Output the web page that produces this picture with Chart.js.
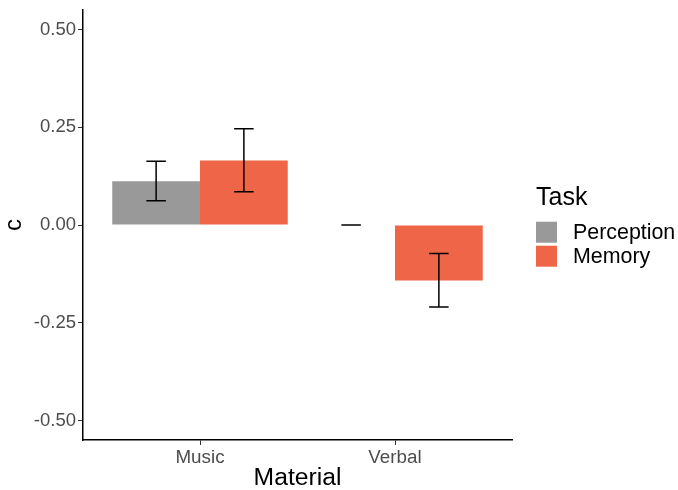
<!DOCTYPE html>
<html>
<head>
<meta charset="utf-8">
<script src="https://cdn.jsdelivr.net/npm/chart.js@4.4.1/dist/chart.umd.min.js"></script>
<style>
html,body{margin:0;padding:0;background:#fff;}
#wrap{width:678px;height:490px;}
</style>
</head>
<body>
<div id="wrap"><canvas id="c" width="678" height="490"></canvas></div>
<script>
// ---- data ----
const categories = ['Music', 'Verbal'];
const taskNames = ['Perception', 'Memory'];
const perceptionMean = [0.112, 0.000];
const perceptionLow  = [0.062, 0.000];
const perceptionHigh = [0.163, 0.000];
const memoryMean = [0.165, -0.142];
const memoryLow  = [0.085, -0.210];
const memoryHigh = [0.246, -0.073];
const yTicks = [-0.50, -0.25, 0.00, 0.25, 0.50];

const colors = ['#999999', '#EF6548'];
const FONT = "'Liberation Sans', Arial, sans-serif";

const means = [perceptionMean, memoryMean];
const lows = [perceptionLow, memoryLow];
const highs = [perceptionHigh, memoryHigh];

const datasets = taskNames.map((name, d) => ({
  label: name,
  data: categories.map((c, i) => ({x: i + 1, y: means[d][i]})),
  backgroundColor: colors[d],
  borderWidth: 0,
  categoryPercentage: 0.9,
  barPercentage: 1.0
}));

const errorBars = {
  id: 'errorBars',
  afterDatasetsDraw(chart) {
    const ctx = chart.ctx;
    const ys = chart.scales.y, xs = chart.scales.x;
    const capHalf = (xs.getPixelForValue(1.05) - xs.getPixelForValue(0.95)) / 2;
    ctx.save();
    ctx.strokeStyle = '#000';
    ctx.lineWidth = 1.5;
    chart.data.datasets.forEach((ds, d) => {
      const meta = chart.getDatasetMeta(d);
      meta.data.forEach((bar, i) => {
        const x = bar.x;
        const yl = ys.getPixelForValue(lows[d][i]);
        const yh = ys.getPixelForValue(highs[d][i]);
        ctx.beginPath();
        ctx.moveTo(x, yl); ctx.lineTo(x, yh);
        ctx.moveTo(x - capHalf, yl); ctx.lineTo(x + capHalf, yl);
        ctx.moveTo(x - capHalf, yh); ctx.lineTo(x + capHalf, yh);
        ctx.stroke();
      });
    });
    ctx.restore();
  }
};

const legendPlugin = {
  id: 'ggLegend',
  afterDraw(chart) {
    const ctx = chart.ctx;
    ctx.save();
    ctx.fillStyle = '#000';
    ctx.font = '25px ' + FONT;
    ctx.textAlign = 'left';
    ctx.textBaseline = 'alphabetic';
    ctx.fillText('Task', 536, 205);
    ctx.font = '21.4px ' + FONT;
    chart.data.datasets.forEach((ds, d) => {
      const y0 = 221.7 + d * 24;
      ctx.fillStyle = ds.backgroundColor;
      ctx.fillRect(536, y0, 21, 21);
      ctx.fillStyle = '#000';
      ctx.fillText(ds.label, 573, y0 + 17.6);
    });
    ctx.restore();
  }
};

new Chart(document.getElementById('c'), {
  type: 'bar',
  data: { datasets },
  plugins: [errorBars, legendPlugin],
  options: {
    responsive: false,
    devicePixelRatio: 1,
    animation: false,
    layout: { padding: { top: 10, right: 166, left: 0, bottom: 0 } },
    plugins: { legend: { display: false }, tooltip: { enabled: false } },
    scales: {
      x: {
        type: 'linear',
        offset: false,
        min: 0.4, max: 2.6,
        afterBuildTicks(s) { s.ticks = categories.map((c, i) => ({ value: i + 1 })); },
        afterFit(s) { s.height = 50; s.paddingLeft = 0; s.paddingRight = 0; },
        ticks: {
          callback: (v) => categories[Math.round(v) - 1],
          color: '#4D4D4D',
          font: { family: FONT, size: 18.8 },
          padding: 2,
          autoSkip: false,
          maxRotation: 0
        },
        grid: { offset: false, drawOnChartArea: false, tickLength: 5, color: '#333333', lineWidth: 1 },
        border: { display: true, color: '#000', width: 1.5 },
        title: { display: true, text: 'Material', color: '#000', font: { family: FONT, size: 24.7, lineHeight: 1.0 }, padding: { top: 0, bottom: -1 } }
      },
      y: {
        type: 'linear',
        min: -0.55, max: 0.55,
        afterBuildTicks(s) { s.ticks = yTicks.map(v => ({ value: v })); },
        afterFit(s) { s.width = 83; s.paddingTop = 0; s.paddingBottom = 0; },
        ticks: {
          callback: (v) => Number(v).toFixed(2),
          color: '#4D4D4D',
          font: { family: FONT, size: 18.5 },
          padding: 2
        },
        grid: { drawOnChartArea: false, tickLength: 5, color: '#333333', lineWidth: 1 },
        border: { display: true, color: '#000', width: 1.5 },
        title: { display: true, text: 'c', color: '#000', font: { family: FONT, size: 24 }, padding: { top: 0, bottom: 0 } }
      }
    }
  }
});
</script>
</body>
</html>
